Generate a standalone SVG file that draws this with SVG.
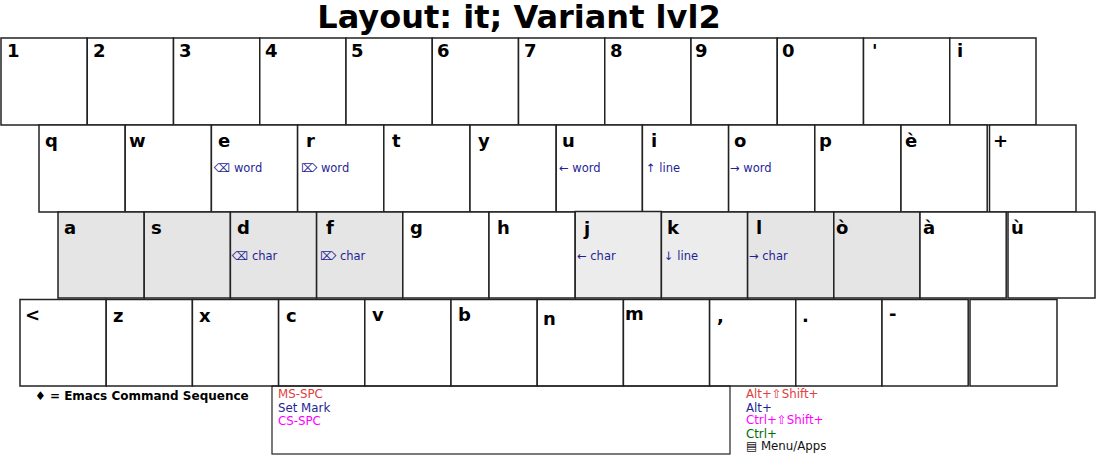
<svg xmlns="http://www.w3.org/2000/svg" width="1096" height="455" viewBox="0 0 1096 455">
<style>
.k{fill:#ffffff;stroke:#222222;stroke-width:1.5}
.h1{fill:#e5e5e5}
.h2{fill:#ececec}
.l{font-family:"DejaVu Sans",sans-serif;font-weight:bold;font-size:18px;fill:#000}
.s{font-family:"DejaVu Sans",sans-serif;font-size:11.5px;fill:#1f1f96}
.t{font-family:"DejaVu Sans",sans-serif;font-weight:bold;font-size:32px;fill:#000}
.g{font-family:"DejaVu Sans",sans-serif;font-size:11.8px}
.gb{font-family:"DejaVu Sans",sans-serif;font-size:12px;font-weight:bold;fill:#000}
.red{fill:#e04040}.nav{fill:#1f1f96}.mag{fill:#ff00ff}.grn{fill:#006e00}.blk{fill:#111}
</style>
<rect x="0" y="0" width="1096" height="455" fill="#ffffff"/>
<text class="t" x="519" y="28" text-anchor="middle">Layout: it; Variant lvl2</text>

<g id="row1">
<g id="key-1"><rect class="k" x="1" y="38" width="86.25" height="87"/><text class="l" x="7" y="57">1</text></g>
<g id="key-2"><rect class="k" x="87.25" y="38" width="86.25" height="87"/><text class="l" x="93" y="57">2</text></g>
<g id="key-3"><rect class="k" x="173.5" y="38" width="86.25" height="87"/><text class="l" x="179" y="57">3</text></g>
<g id="key-4"><rect class="k" x="259.75" y="38" width="86.25" height="87"/><text class="l" x="265" y="57">4</text></g>
<g id="key-5"><rect class="k" x="346" y="38" width="86.25" height="87"/><text class="l" x="351" y="57">5</text></g>
<g id="key-6"><rect class="k" x="432.25" y="38" width="86.25" height="87"/><text class="l" x="437" y="57">6</text></g>
<g id="key-7"><rect class="k" x="518.5" y="38" width="86.25" height="87"/><text class="l" x="524" y="57">7</text></g>
<g id="key-8"><rect class="k" x="604.75" y="38" width="86.25" height="87"/><text class="l" x="610" y="57">8</text></g>
<g id="key-9"><rect class="k" x="691" y="38" width="86.25" height="87"/><text class="l" x="695" y="57">9</text></g>
<g id="key-0"><rect class="k" x="777.25" y="38" width="86.25" height="87"/><text class="l" x="782" y="57">0</text></g>
<g id="key-apos"><rect class="k" x="863.5" y="38" width="86.25" height="87"/><text class="l" x="872" y="57">'</text></g>
<g id="key-igrave"><rect class="k" x="949.75" y="38" width="86.25" height="87"/><text class="l" x="957" y="57">i</text></g>
</g>

<g id="row2">
<g id="key-q"><rect class="k" x="39" y="125" width="86.2" height="87"/><text class="l" x="45" y="147">q</text></g>
<g id="key-w"><rect class="k" x="125.2" y="125" width="86.2" height="87"/><text class="l" x="129" y="147">w</text></g>
<g id="key-e"><rect class="k" x="211.4" y="125" width="86.2" height="87"/><text class="l" x="218" y="147">e</text><text class="s" x="214" y="172">⌫ word</text></g>
<g id="key-r"><rect class="k" x="297.6" y="125" width="86.2" height="87"/><text class="l" x="306" y="147">r</text><text class="s" x="301" y="172">⌦ word</text></g>
<g id="key-t"><rect class="k" x="383.8" y="125" width="86.2" height="87"/><text class="l" x="392" y="147">t</text></g>
<g id="key-y"><rect class="k" x="470" y="125" width="86.2" height="87"/><text class="l" x="478" y="147">y</text></g>
<g id="key-u"><rect class="k" x="556.2" y="125" width="86.2" height="87"/><text class="l" x="562" y="147">u</text><text class="s" x="559" y="172">← word</text></g>
<g id="key-i"><rect class="k" x="642.4" y="125" width="86.2" height="87"/><text class="l" x="651" y="147">i</text><text class="s" x="646" y="172">↑ line</text></g>
<g id="key-o"><rect class="k" x="728.6" y="125" width="86.2" height="87"/><text class="l" x="734" y="147">o</text><text class="s" x="730" y="172">→ word</text></g>
<g id="key-p"><rect class="k" x="814.8" y="125" width="86.2" height="87"/><text class="l" x="819" y="147">p</text></g>
<g id="key-egrave"><rect class="k" x="901" y="125" width="86.2" height="87"/><text class="l" x="905" y="147">è</text></g>
<g id="key-plus"><rect class="k" x="989.5" y="125" width="86.5" height="87"/><text class="l" x="993" y="147">+</text></g>
</g>

<g id="row3">
<g id="key-a"><rect class="k h1" x="58" y="212" width="86.2" height="86"/><text class="l" x="64" y="234">a</text></g>
<g id="key-s"><rect class="k h1" x="144.2" y="212" width="86.2" height="86"/><text class="l" x="151" y="234">s</text></g>
<g id="key-d"><rect class="k h1" x="230.4" y="212" width="86.2" height="86"/><text class="l" x="237" y="234">d</text><text class="s" x="232" y="259.5">⌫ char</text></g>
<g id="key-f"><rect class="k h1" x="316.6" y="212" width="86.2" height="86"/><text class="l" x="326" y="234">f</text><text class="s" x="320" y="259.5">⌦ char</text></g>
<g id="key-g"><rect class="k" x="402.8" y="212" width="86.2" height="86"/><text class="l" x="410" y="234">g</text></g>
<g id="key-h"><rect class="k" x="489" y="212" width="86.2" height="86"/><text class="l" x="497" y="234">h</text></g>
<g id="key-j"><rect class="k h2" x="575.2" y="211.5" width="86.2" height="86.5"/><text class="l" x="584" y="235">j</text><text class="s" x="577" y="259.5">← char</text></g>
<g id="key-k"><rect class="k h2" x="661.4" y="212" width="86.2" height="86"/><text class="l" x="667" y="234">k</text><text class="s" x="664" y="259.5">↓ line</text></g>
<g id="key-l"><rect class="k h1" x="747.6" y="212" width="86.2" height="86"/><text class="l" x="756" y="234">l</text><text class="s" x="749" y="259.5">→ char</text></g>
<g id="key-ograve"><rect class="k h1" x="833.8" y="212" width="86.2" height="86"/><text class="l" x="836" y="234">ò</text></g>
<g id="key-agrave"><rect class="k" x="920" y="212" width="86.2" height="86"/><text class="l" x="923" y="234">à</text></g>
<g id="key-ugrave"><rect class="k" x="1008" y="212" width="87" height="86"/><text class="l" x="1011" y="234">ù</text></g>
</g>

<g id="row4">
<g id="key-lt"><rect class="k" x="20" y="299.5" width="86.2" height="86.5"/><text class="l" x="25" y="320.5">&lt;</text></g>
<g id="key-z"><rect class="k" x="106.2" y="299.5" width="86.2" height="86.5"/><text class="l" x="113" y="321.5">z</text></g>
<g id="key-x"><rect class="k" x="192.4" y="299.5" width="86.2" height="86.5"/><text class="l" x="199" y="321.5">x</text></g>
<g id="key-c"><rect class="k" x="278.6" y="299.5" width="86.2" height="86.5"/><text class="l" x="286" y="322">c</text></g>
<g id="key-v"><rect class="k" x="364.8" y="299.5" width="86.2" height="86.5"/><text class="l" x="372" y="320.5">v</text></g>
<g id="key-b"><rect class="k" x="451" y="299.5" width="86.2" height="86.5"/><text class="l" x="458" y="320.5">b</text></g>
<g id="key-n"><rect class="k" x="537.2" y="299.5" width="86.2" height="86.5"/><text class="l" x="543" y="325">n</text></g>
<g id="key-m"><rect class="k" x="623.4" y="299.5" width="86.2" height="86.5"/><text class="l" x="625" y="320">m</text></g>
<g id="key-comma"><rect class="k" x="709.6" y="299.5" width="86.2" height="86.5"/><text class="l" x="717" y="322">,</text></g>
<g id="key-period"><rect class="k" x="795.8" y="299.5" width="86.2" height="86.5"/><text class="l" x="802" y="322">.</text></g>
<g id="key-minus"><rect class="k" x="882" y="299.5" width="86.2" height="86.5"/><text class="l" x="889" y="320">-</text></g>
<g id="key-blank"><rect class="k" x="970" y="299.5" width="87" height="86.5"/></g>
</g>

<g id="legend">
<text class="gb" x="35" y="400">♦ = Emacs Command Sequence</text>
<rect x="272" y="386" width="458" height="68" fill="none" stroke="#222222" stroke-width="1.2"/>
<text class="g red" x="278" y="397.5">MS-SPC</text>
<text class="g nav" x="278" y="412">Set Mark</text>
<text class="g mag" x="278" y="424.5">CS-SPC</text>
<text class="g red" x="746" y="397.5">Alt+⇧Shift+</text>
<text class="g nav" x="746" y="411.5">Alt+</text>
<text class="g mag" x="746" y="423.5">Ctrl+⇧Shift+</text>
<text class="g grn" x="746" y="437.5">Ctrl+</text>
<text class="g blk" x="746" y="450">▤ Menu/Apps</text>
</g>
</svg>
